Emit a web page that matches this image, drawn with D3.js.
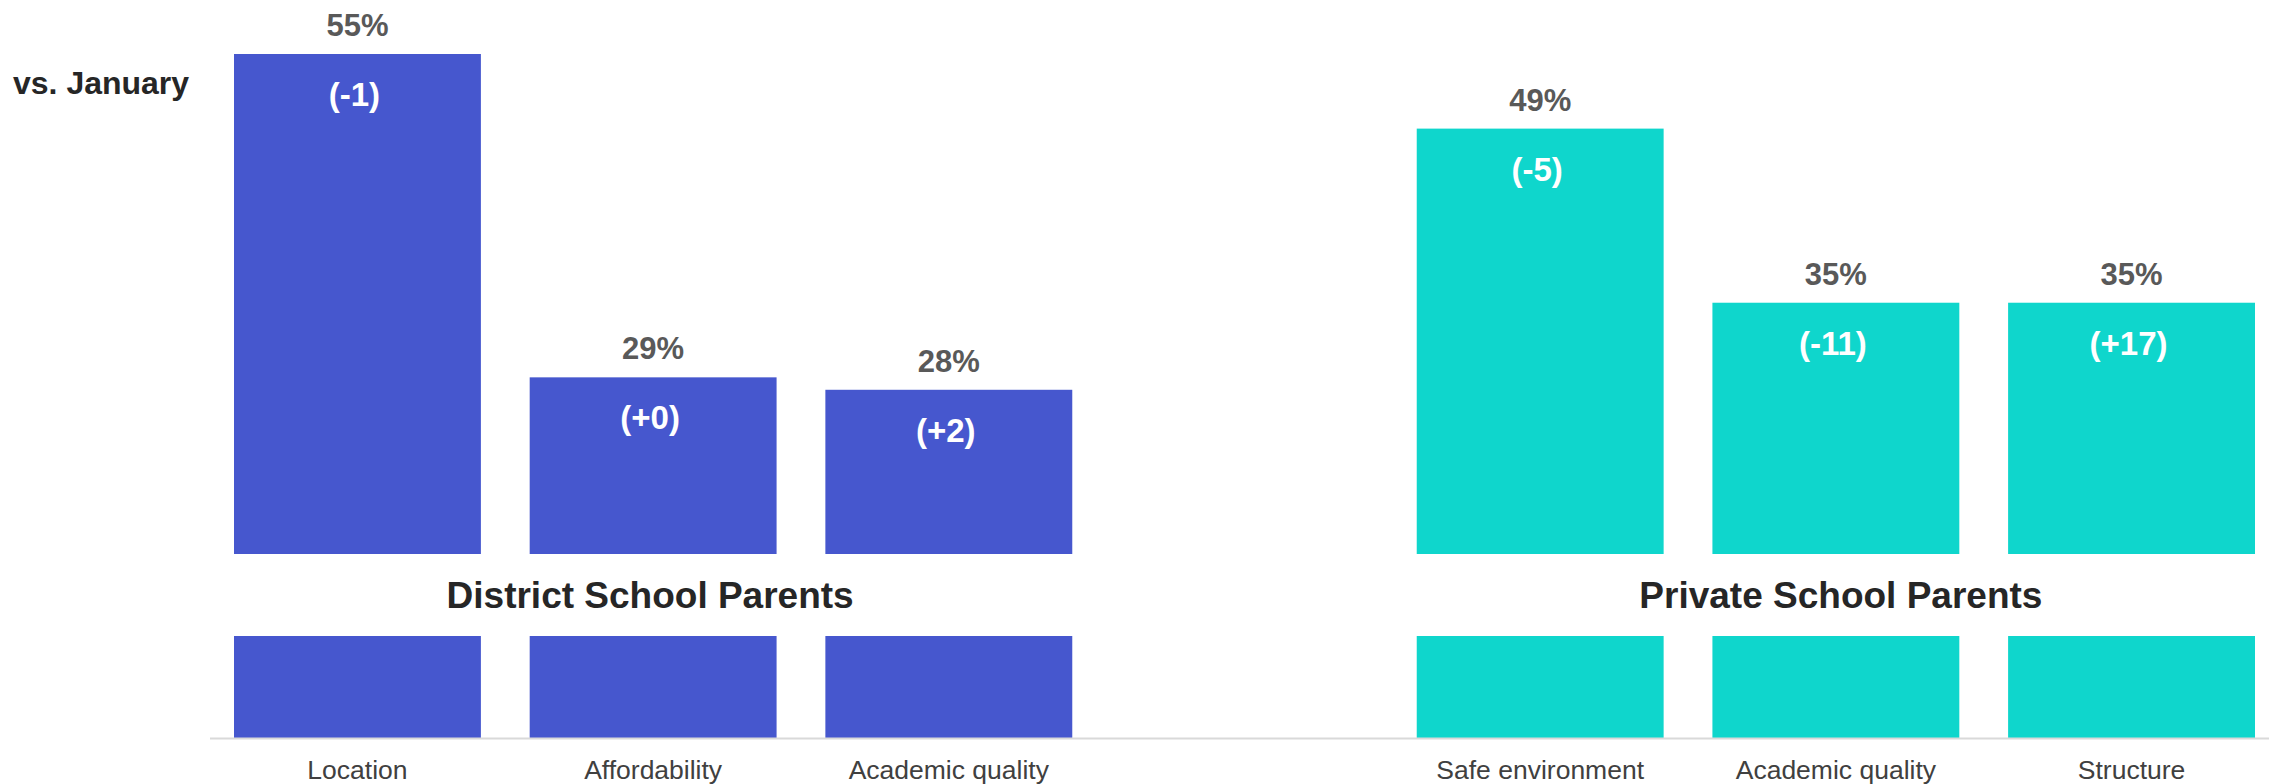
<!DOCTYPE html>
<html>
<head>
<meta charset="utf-8">
<script src="https://cdn.jsdelivr.net/npm/d3@7"></script>
<style>
  html, body { margin: 0; padding: 0; background: #fff; }
  svg { display: block; }
  svg text { font-family: "Liberation Sans", Arial, Helvetica, sans-serif; }
</style>
</head>
<body>
<svg id="chart" width="2269" height="784"></svg>
<script>
// ---- data ----
const districtCategories = ["Location", "Affordability", "Academic quality"];
const districtValues = [55, 29, 28];
const districtChanges = ["(-1)", "(+0)", "(+2)"];

const privateCategories = ["Safe environment", "Academic quality", "Structure"];
const privateValues = [49, 35, 35];
const privateChanges = ["(-5)", "(-11)", "(+17)"];

const groupTitles = ["District School Parents", "Private School Parents"];
const comparisonLabel = "vs. January";
const groupColors = ["#4657CE", "#0FD6CC"];

// ---- layout ----
const W = 2269, H = 784;
const axisY = 738, topY = 54;
const bandTop = 554, bandBottom = 636;
const FONT = "'Liberation Sans', Arial, Helvetica, sans-serif";

const svg = d3.select("#chart");

// build rows (slot 3 is an empty spacer between groups)
const rows = [];
districtCategories.forEach((c, i) => rows.push({ key: "d" + i, cat: c, value: districtValues[i], change: districtChanges[i], group: 0 }));
rows.push({ key: "gap", cat: "", value: null, change: "", group: -1 });
privateCategories.forEach((c, i) => rows.push({ key: "p" + i, cat: c, value: privateValues[i], change: privateChanges[i], group: 1 }));

const x = d3.scaleBand()
  .domain(rows.map(r => r.key))
  .range([234, 2255])
  .paddingInner(0.165)
  .paddingOuter(0);

const y = d3.scaleLinear()
  .domain([0, d3.max(districtValues.concat(privateValues))])
  .range([axisY, topY]);

const bars = rows.filter(r => r.value !== null);

// bars (full height to the axis)
svg.append("g").selectAll("rect")
  .data(bars)
  .join("rect")
  .attr("x", d => x(d.key))
  .attr("width", x.bandwidth())
  .attr("y", d => y(d.value))
  .attr("height", d => y(0) - y(d.value))
  .attr("fill", d => groupColors[d.group]);

// white band hiding the middle of the bars, holding the group titles
svg.append("rect")
  .attr("x", 0).attr("width", W)
  .attr("y", bandTop).attr("height", bandBottom - bandTop)
  .attr("fill", "#fff");

// group titles
const groupKeys = [["d0", "d2"], ["p0", "p2"]];
svg.append("g").selectAll("text")
  .data(groupTitles)
  .join("text")
  .attr("x", (d, i) => (x(groupKeys[i][0]) + x(groupKeys[i][1]) + x.bandwidth()) / 2 + (i === 0 ? -3 : 5))
  .attr("y", 608)
  .attr("text-anchor", "middle")
  .attr("font-family", FONT)
  .attr("font-size", 37)
  .attr("font-weight", "bold")
  .attr("fill", "#262626")
  .text(d => d);

// value labels above bars
svg.append("g").selectAll("text")
  .data(bars)
  .join("text")
  .attr("x", d => x(d.key) + x.bandwidth() / 2)
  .attr("y", d => y(d.value) - 18)
  .attr("text-anchor", "middle")
  .attr("font-family", FONT)
  .attr("font-size", 31)
  .attr("font-weight", "bold")
  .attr("fill", "#595959")
  .text(d => d.value + "%");

// change labels inside bars
svg.append("g").selectAll("text")
  .data(bars)
  .join("text")
  .attr("x", d => x(d.key) + x.bandwidth() / 2 - 3)
  .attr("y", d => y(d.value) + 52)
  .attr("text-anchor", "middle")
  .attr("font-family", FONT)
  .attr("font-size", 33)
  .attr("font-weight", "bold")
  .attr("fill", "#ffffff")
  .text(d => d.change);

// comparison row label
svg.append("text")
  .attr("x", 13)
  .attr("y", 94)
  .attr("font-family", FONT)
  .attr("font-size", 32)
  .attr("font-weight", "bold")
  .attr("fill", "#262626")
  .text(comparisonLabel);

// x axis
const catByKey = new Map(rows.map(r => [r.key, r.cat]));
const xAxis = svg.append("g")
  .attr("transform", `translate(0,${axisY})`)
  .call(d3.axisBottom(x).tickSize(0).tickPadding(0).tickFormat(k => catByKey.get(k)));
xAxis.select(".domain").remove();
xAxis.selectAll("text")
  .attr("dy", null)
  .attr("y", 41)
  .attr("font-size", 26.5)
  .attr("font-family", FONT)
  .attr("fill", "#404040");

svg.append("line")
  .attr("x1", 210).attr("x2", W)
  .attr("y1", axisY + 0.5).attr("y2", axisY + 0.5)
  .attr("stroke", "#d9d9d9")
  .attr("stroke-width", 2);
</script>
</body>
</html>
